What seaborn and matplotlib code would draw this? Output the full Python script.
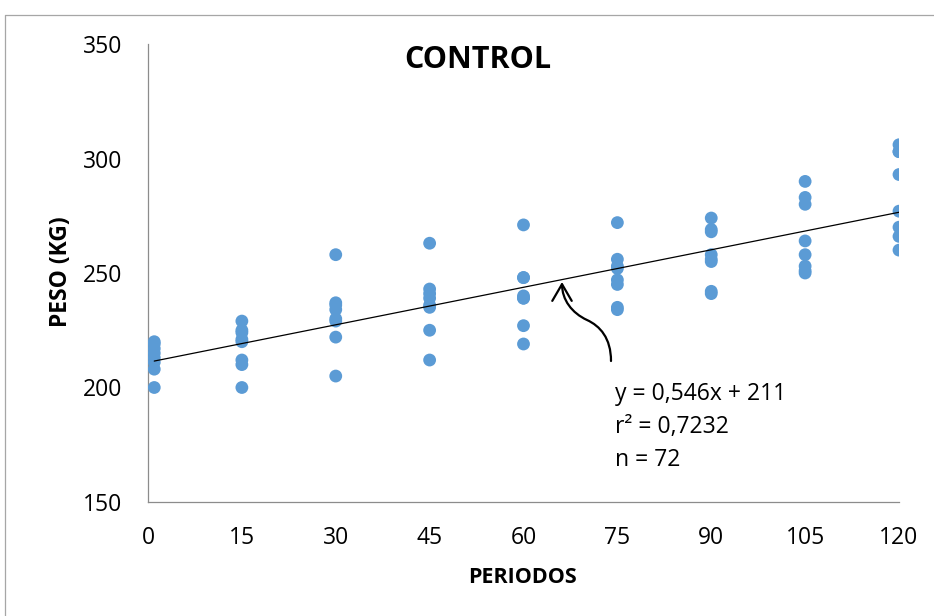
import numpy as np
import pandas as pd
import matplotlib
matplotlib.use("Agg")
import matplotlib.pyplot as plt
import seaborn as sns
from matplotlib.path import Path
from matplotlib.patches import FancyArrowPatch
from matplotlib.lines import Line2D

# ---------------- data ----------------
periodos = [1, 15, 30, 45, 60, 75, 90, 105, 120]
peso_p1 = [220, 219, 217, 215, 213, 211, 208, 200]
peso_p15 = [229, 225, 224, 221, 220, 212, 210, 200]
peso_p30 = [258, 237, 236, 234, 230, 229, 222, 205]
peso_p45 = [263, 243, 241, 239, 236, 235, 225, 212]
peso_p60 = [271, 248, 248, 240, 239, 239, 227, 219]
peso_p75 = [272, 256, 253, 252, 247, 245, 235, 234]
peso_p90 = [274, 269, 268, 258, 256, 255, 242, 241]
peso_p105 = [290, 283, 280, 264, 258, 253, 251, 250]
peso_p120 = [306, 303, 303, 293, 277, 270, 266, 260]
pesos = [peso_p1, peso_p15, peso_p30, peso_p45, peso_p60,
         peso_p75, peso_p90, peso_p105, peso_p120]

slope = 0.546
intercept = 211
eq_text = "y = 0,546x + 211"
r2_text = "r² = 0,7232"
n_text = "n = 72"

x_ticks = [0, 15, 30, 45, 60, 75, 90, 105, 120]
y_ticks = [150, 200, 250, 300, 350]
title = "CONTROL"
xlabel = "PERIODOS"
ylabel = "PESO (KG)"

df = pd.DataFrame({
    "periodo": [p for p, vals in zip(periodos, pesos) for _ in vals],
    "peso": [v for vals in pesos for v in vals],
})

# ---------------- figure ----------------
sns.set_theme(style="white")
plt.rcParams["font.family"] = ["Open Sans", "DejaVu Sans"]

W, H = 934, 616
fig = plt.figure(figsize=(W / 100, H / 100), dpi=100)
ax = fig.add_axes([148 / W, 1 - 502 / H, (899 - 148) / W, (502 - 44) / H])

def px(x, y):
    return (x / W, 1 - y / H)

sns.scatterplot(data=df, x="periodo", y="peso", ax=ax, color="#5B9BD5",
                s=85, edgecolor="none", linewidth=0, legend=False, zorder=3)

xl = np.array([min(periodos), max(periodos)])
ax.plot(xl, slope * xl + intercept, color="black", lw=0.9, zorder=4)

ax.set_xlim(0, 120)
ax.set_ylim(150, 350)
ax.set_xticks(x_ticks)
ax.set_yticks(y_ticks)
ax.set_xticklabels([str(t) for t in x_ticks])
ax.set_yticklabels([str(t) for t in y_ticks])
ax.tick_params(axis="both", length=0, labelsize=16.5, colors="black")
ax.tick_params(axis="x", pad=17)
ax.tick_params(axis="y", pad=18.5)

for s in ["top", "right"]:
    ax.spines[s].set_visible(False)
for s in ["left", "bottom"]:
    ax.spines[s].set_color("#8c8c8c")
    ax.spines[s].set_linewidth(0.9)
ax.grid(False)

ax.set_xlabel(xlabel, fontsize=15.5, fontweight="bold", color="black")
ax.set_ylabel(ylabel, fontsize=16.5, fontweight="bold", color="black")
ax.xaxis.set_label_coords(*px(523, 583), transform=fig.transFigure)
ax.xaxis.label.set_va("baseline")
ax.yaxis.set_label_coords(*px(61, 272), transform=fig.transFigure)
ax.yaxis.label.set_va("center")

fig.text(*px(478, 68), title, fontsize=22, fontweight="bold",
         ha="center", va="baseline", color="black")

for txt, yb in [(eq_text, 400), (r2_text, 433), (n_text, 466)]:
    fig.text(*px(615, yb), txt, fontsize=16.5, ha="left", va="baseline",
             color="black")

# curved arrow pointing to trend line
verts = [px(611, 361), px(611, 338), px(600, 326), px(587, 320),
         px(572, 313), px(562, 300), px(562, 282)]
codes = [Path.MOVETO] + [Path.CURVE4] * 6
arrow = FancyArrowPatch(path=Path(verts, codes), transform=fig.transFigure,
                        arrowstyle="->,head_length=0.6,head_width=0.35",
                        mutation_scale=20, lw=1.6, color="black")
fig.add_artist(arrow)

# outer chart border
fig.add_artist(Line2D([4.5 / W, 4.5 / W], [0, 1 - 14.5 / H],
                      transform=fig.transFigure, color="#a6a6a6", lw=0.9))
fig.add_artist(Line2D([4.5 / W, 1], [1 - 14.5 / H, 1 - 14.5 / H],
                      transform=fig.transFigure, color="#a6a6a6", lw=0.9))

fig.savefig("out.png", dpi=100)
